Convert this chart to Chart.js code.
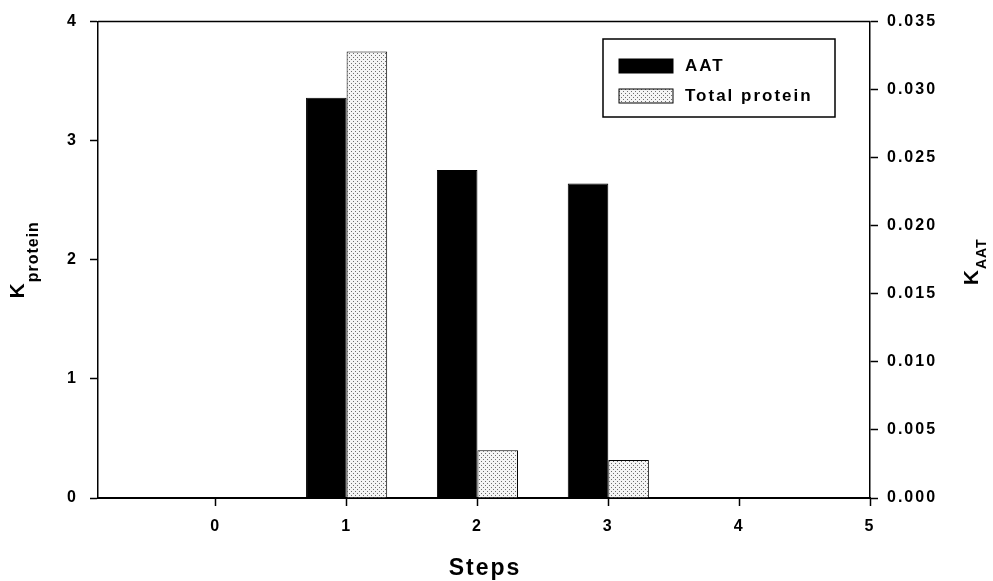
<!DOCTYPE html>
<html>
<head>
<meta charset="utf-8">
<script src="https://cdn.jsdelivr.net/npm/chart.js@4.4.0/dist/chart.umd.min.js"></script>
<style>
  body { margin: 0; background: #fff; }
  #wrap { width: 993px; height: 581px; position: relative; }
</style>
</head>
<body>
<div id="wrap"><canvas id="chart"></canvas></div>
<script>
const steps = [0, 1, 2, 3, 4, 5];
const aatValues = [0, 0.0294, 0.0241, 0.0231, 0, 0];
const proteinValues = [0, 3.75, 0.40, 0.32, 0, 0];
const leftTicks = [0, 1, 2, 3, 4];
const rightTicks = [0, 0.005, 0.010, 0.015, 0.020, 0.025, 0.030, 0.035];
const seriesNames = ['AAT', 'Total protein'];

const FONT = 'Liberation Sans';
Chart.defaults.color = '#000';
Chart.defaults.font.family = FONT;
Chart.defaults.font.weight = 'bold';

// light stipple fill like the scanned figure
function makeStipple() {
    const c = document.createElement('canvas');
    c.width = 4; c.height = 4;
    const g = c.getContext('2d');
    g.fillStyle = '#f5f5f5';
    g.fillRect(0, 0, 4, 4);
    g.fillStyle = '#6e6e6e';
    g.fillRect(1, 1, 1, 1);
    g.fillRect(3, 3, 1, 1);
    return g.createPattern(c, 'repeat');
}

// rotated title with a subscript, e.g. K_protein
function drawSubTitle(ctx, main, sub, subSize, baseX, subShift, midY) {
    ctx.save();
    ctx.letterSpacing = '1px';
    ctx.font = `bold 21px "${FONT}"`;
    const w1 = ctx.measureText(main).width;
    ctx.font = `bold ${subSize}px "${FONT}"`;
    const w2 = ctx.measureText(sub).width;
    const total = w1 + w2;
    ctx.translate(baseX, midY + total / 2);
    ctx.rotate(-Math.PI / 2);
    ctx.textAlign = 'left';
    ctx.textBaseline = 'alphabetic';
    ctx.font = `bold 21px "${FONT}"`;
    ctx.fillText(main, 0, 0);
    ctx.font = `bold ${subSize}px "${FONT}"`;
    ctx.fillText(sub, w1, subShift);
    ctx.restore();
}

const decorations = {
    id: 'decorations',
    beforeUpdate(chart) { chart.ctx.letterSpacing = '2px'; },
    beforeDraw(chart) { chart.ctx.letterSpacing = '2px'; },
    afterDraw(chart) {
        const {ctx, chartArea: a} = chart;
        const mid = (a.top + a.bottom) / 2;
        ctx.save();
        ctx.strokeStyle = '#000';
        ctx.lineWidth = 1.5;
        ctx.beginPath();
        ctx.moveTo(a.left, a.top);
        ctx.lineTo(a.right, a.top);
        ctx.stroke();

        ctx.fillStyle = '#000';
        ctx.font = `bold 23px "${FONT}"`;
        ctx.letterSpacing = '2px';
        ctx.textAlign = 'center';
        ctx.textBaseline = 'alphabetic';
        ctx.fillText('Steps', (a.left + a.right) / 2 + 1, 575);

        drawSubTitle(ctx, 'K', 'protein', 16, 24, 14, mid);
        drawSubTitle(ctx, 'K', 'AAT', 14, 978, 8, mid + 2);

        // legend box
        ctx.letterSpacing = '2px';
        ctx.lineWidth = 1.5;
        ctx.strokeRect(603, 39, 232, 78);
        chart.data.datasets.forEach((ds, i) => {
            const y = 59 + i * 30;
            ctx.fillStyle = ds.backgroundColor;
            ctx.fillRect(619, y, 54, 14);
            ctx.strokeStyle = '#000';
            ctx.lineWidth = 1;
            ctx.strokeRect(619, y, 54, 14);
            ctx.fillStyle = '#000';
            ctx.font = `bold 17px "${FONT}"`;
            ctx.textAlign = 'left';
            ctx.textBaseline = 'middle';
            ctx.fillText(ds.label, 685, y + 7.5);
        });
        ctx.restore();
    }
};

const axisLine = {display: true, color: '#000', width: 1.5};
const tickGrid = {drawOnChartArea: false, drawTicks: true, tickLength: 8, tickWidth: 1.5, color: '#000', offset: false};

const ctx = document.getElementById('chart').getContext('2d');
new Chart(ctx, {
    type: 'bar',
    data: {
        datasets: [
            {
                label: seriesNames[0],
                data: steps.map((s, i) => ({x: s, y: aatValues[i]})),
                yAxisID: 'yRight',
                backgroundColor: '#000',
                borderColor: '#000',
                borderWidth: 1,
                categoryPercentage: 0.62,
                barPercentage: 1
            },
            {
                label: seriesNames[1],
                data: steps.map((s, i) => ({x: s, y: proteinValues[i]})),
                yAxisID: 'yLeft',
                backgroundColor: makeStipple(),
                borderColor: '#000',
                borderWidth: 1,
                categoryPercentage: 0.62,
                barPercentage: 1
            }
        ]
    },
    options: {
        responsive: true,
        maintainAspectRatio: false,
        animation: false,
        layout: {padding: {top: 21, left: 0, right: 0, bottom: 0}},
        plugins: {legend: {display: false}, tooltip: {enabled: false}},
        scales: {
            x: {
                type: 'linear',
                min: -0.9,
                max: 5,
                offset: false,
                afterBuildTicks: s => { s.ticks = steps.map(v => ({value: v})); },
                afterFit: s => { s.height = 83; },
                ticks: {font: {size: 16}, padding: 11, maxRotation: 0},
                grid: tickGrid,
                border: {display: true, color: '#000', width: 2}
            },
            yLeft: {
                position: 'left',
                min: 0,
                max: 4,
                afterBuildTicks: s => { s.ticks = leftTicks.map(v => ({value: v})); },
                afterFit: s => { s.width = 98; },
                ticks: {font: {size: 16}, padding: 12},
                grid: tickGrid,
                border: axisLine
            },
            yRight: {
                position: 'right',
                min: 0,
                max: 0.035,
                afterBuildTicks: s => { s.ticks = rightTicks.map(v => ({value: v})); },
                afterFit: s => { s.width = 123; },
                ticks: {font: {size: 16}, padding: 9, callback: v => v.toFixed(3)},
                grid: tickGrid,
                border: axisLine
            }
        }
    },
    plugins: [decorations]
});
</script>
</body>
</html>
